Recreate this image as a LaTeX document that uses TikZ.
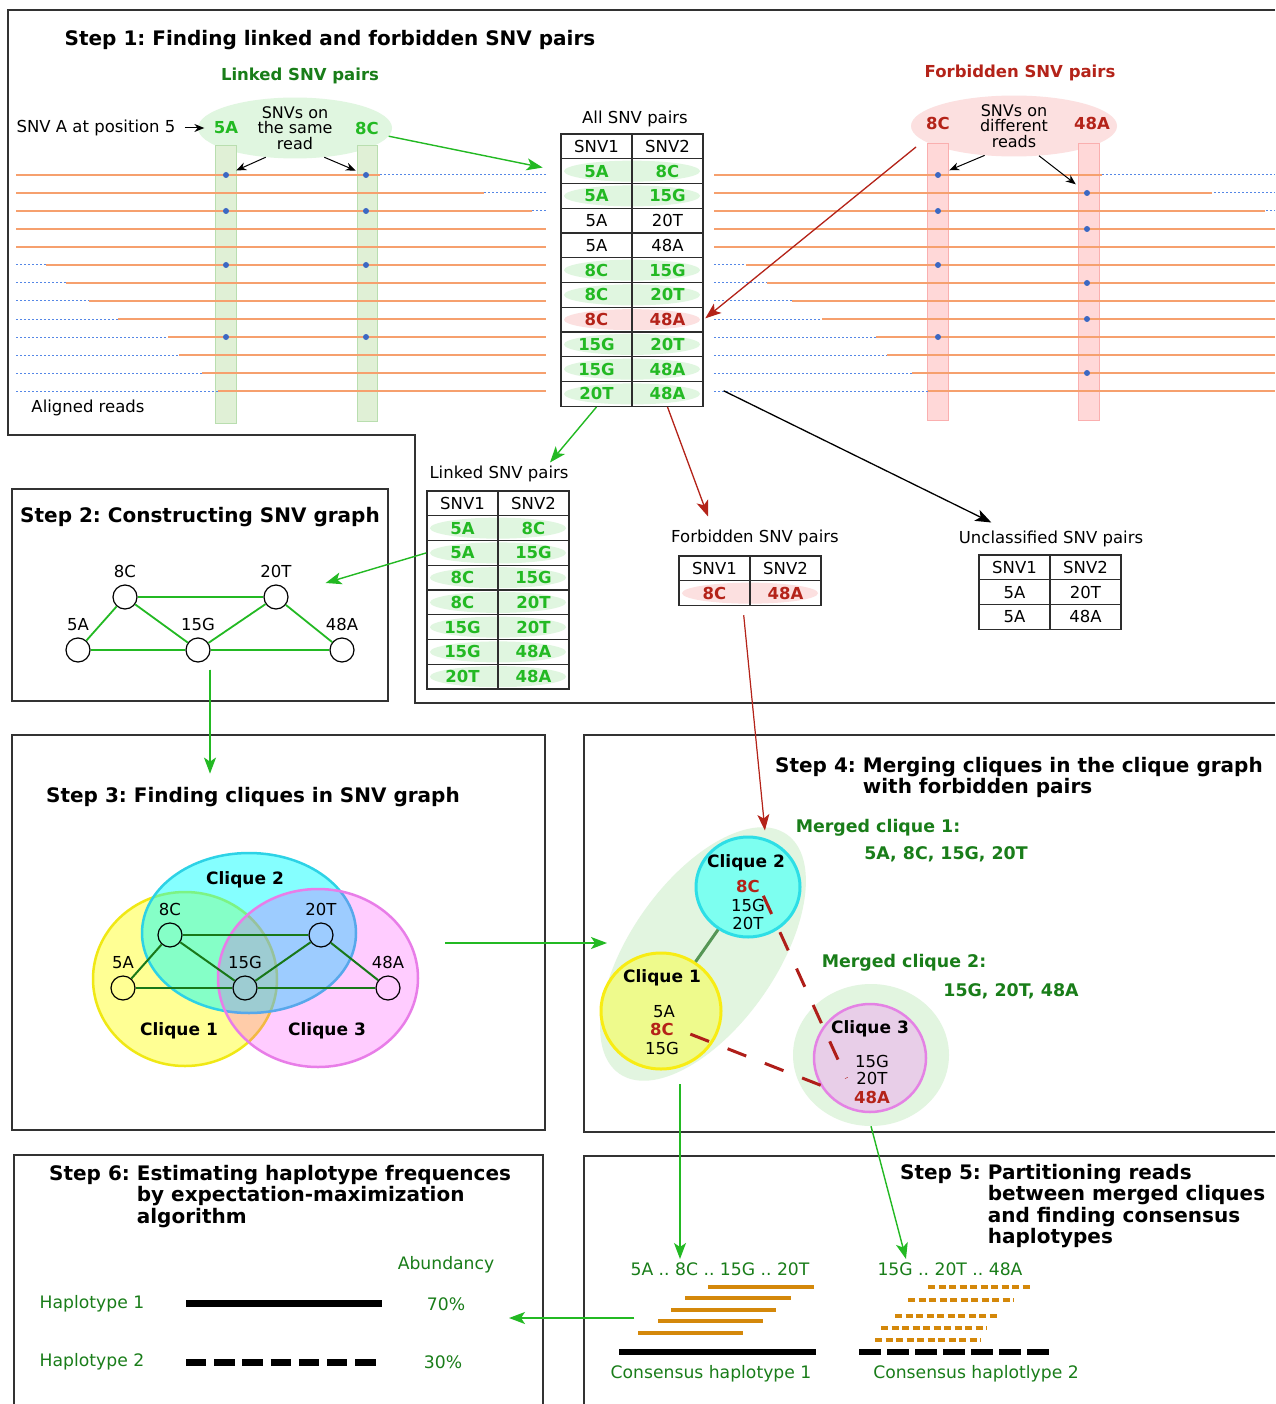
\documentclass[tikz,border=0pt]{standalone}
\usepackage{fontspec}
\setmainfont{DejaVu Sans}
\frenchspacing
\usetikzlibrary{arrows.meta,shapes.geometric,positioning}
\definecolor{snvgreen}{RGB}{35,185,35}
\definecolor{labelgreen}{RGB}{25,125,25}
\definecolor{snvred}{RGB}{180,35,25}
\definecolor{shadegreen}{RGB}{224,246,224}
\definecolor{shadered}{RGB}{252,224,224}
\definecolor{readorange}{RGB}{246,160,110}
\definecolor{readblue}{RGB}{85,135,230}
\definecolor{dotblue}{RGB}{60,105,195}
\definecolor{barfillg}{RGB}{224,240,214}
\definecolor{barlineg}{RGB}{185,222,175}
\definecolor{barfillr}{RGB}{255,216,216}
\definecolor{barliner}{RGB}{250,175,175}
\definecolor{framegray}{RGB}{50,50,50}
\definecolor{tablegray}{RGB}{45,45,45}
\definecolor{edgegreen}{RGB}{25,120,25}
\definecolor{vennyellowfill}{RGB}{255,255,0}
\definecolor{venncyanfill}{RGB}{0,255,255}
\definecolor{vennmagentafill}{RGB}{255,0,255}
\definecolor{vennyellow}{RGB}{240,232,20}
\definecolor{venncyan}{RGB}{45,210,230}
\definecolor{vennmagenta}{RGB}{232,125,232}
\definecolor{mergefill}{RGB}{226,245,224}
\definecolor{cqtwofill}{RGB}{125,255,240}
\definecolor{cqtwoline}{RGB}{45,222,230}
\definecolor{cqonefill}{RGB}{238,250,140}
\definecolor{cqoneline}{RGB}{248,236,20}
\definecolor{cqthreefill}{RGB}{232,206,232}
\definecolor{cqthreeline}{RGB}{228,130,228}
\definecolor{cqlinkgreen}{RGB}{85,150,85}
\definecolor{forbidred}{RGB}{175,30,25}
\definecolor{haporange}{RGB}{212,136,10}
\newcommand{\snvplain}{\fontsize{16.5}{18}\selectfont}
\newcommand{\snvbold}{\fontsize{16.5}{18}\selectfont\bfseries}
\newcommand{\snvtitle}{\fontsize{20}{21.5}\selectfont\bfseries}
\newcommand{\snvoval}{\fontsize{16}{15.5}\selectfont}
\newcommand{\snvhap}{\fontsize{17.2}{19}\selectfont}
\newcommand{\snvclique}{\fontsize{17}{19}\selectfont\bfseries}
\newcommand{\snvmerge}{\fontsize{17.4}{19}\selectfont\bfseries}
\tikzset{
  frame/.style={draw=framegray, line width=1.5pt},
  plain/.style={font=\snvplain},
  steptitle/.style={font=\snvtitle},
  cell/.style={draw=tablegray, line width=1.4pt, minimum width=71pt, minimum height=24.75pt, inner sep=0pt, font=\snvplain},
  lnk/.style={text=snvgreen, font=\snvbold},
  frb/.style={text=snvred, font=\snvbold},
  unc/.style={},
  lnk-bg/.style={fill=shadegreen},
  frb-bg/.style={fill=shadered},
  unc-bg/.style={},
  read/.style={draw=readorange, line width=1.3pt},
  readgap/.style={draw=readblue, line width=1pt, dash pattern=on 2pt off 2pt},
  snvdot/.style={circle, fill=dotblue, inner sep=0pt, minimum size=6pt},
  linkbar/.style={fill=barfillg, draw=barlineg, line width=1pt},
  frbbar/.style={fill=barfillr, draw=barliner, line width=1pt},
  linkoval/.style={ellipse, fill=shadegreen, minimum width=194pt, minimum height=58pt, inner sep=0pt, align=center, font=\snvoval},
  frboval/.style={ellipse, fill=shadered, minimum width=206pt, minimum height=54pt, inner sep=0pt, align=center, font=\snvoval},
  linkhead/.style={font=\snvbold, text=labelgreen},
  frbhead/.style={font=\snvbold, text=snvred},
  ptr/.style={-{Stealth[length=10pt,width=8pt]}, line width=1pt},
  bigptr/.style={-{Stealth[length=16pt,width=12pt,inset=4pt]}, line width=1.3pt},
  greenarrow/.style={-{Stealth[length=16pt,width=12pt,inset=4pt]}, draw=snvgreen, fill=snvgreen, line width=1.4pt},
  redarrow/.style={-{Stealth[length=16pt,width=12pt,inset=4pt]}, draw=snvred, fill=snvred, line width=1.3pt},
  gnode/.style={circle, draw, line width=1.2pt, fill=white, minimum size=24pt, inner sep=0pt},
  gthree/.style={gnode, fill=none},
  edgetwo/.style={draw=snvgreen, line width=1.8pt},
  edgethree/.style={draw=edgegreen, line width=2pt},
  vennone/.style={ellipse, minimum width=184pt, minimum height=174pt, fill=vennyellowfill, fill opacity=0.42, draw=vennyellow, line width=2.5pt},
  venntwo/.style={ellipse, minimum width=214pt, minimum height=160pt, fill=venncyanfill, fill opacity=0.48, draw=venncyan, line width=2.5pt},
  vennthree/.style={ellipse, minimum width=200pt, minimum height=178pt, fill=vennmagentafill, fill opacity=0.2, draw=vennmagenta, line width=2.5pt},
  cliquetitle/.style={font=\snvclique},
  mergeoval/.style={ellipse, fill=mergefill, inner sep=0pt},
  cqone/.style={ellipse, fill=cqonefill, draw=cqoneline, line width=3pt, minimum width=120pt, minimum height=116pt},
  cqtwo/.style={ellipse, fill=cqtwofill, draw=cqtwoline, line width=3pt, minimum width=104pt, minimum height=100pt},
  cqthree/.style={ellipse, fill=cqthreefill, draw=cqthreeline, line width=2.5pt, minimum width=112pt, minimum height=108pt},
  cqlink/.style={draw=cqlinkgreen, line width=3pt},
  forbid/.style={draw=forbidred, line width=3pt, dash pattern=on 20pt off 20pt},
  mergelab/.style={font=\snvmerge, text=labelgreen},
  hapgreen/.style={font=\snvhap, text=labelgreen},
  hapread/.style={draw=haporange, line width=4.5pt},
  consensus/.style={draw=black, line width=6pt},
}
% table of SNV pairs: name, left, top, rows
\newcommand{\pairtable}[4]{%
  \begin{scope}[shift={(#2,#3)}]
    \node[cell] (#1-0-1) at (35.5,12.4) {SNV1};
    \node[cell] (#1-0-2) at (106.5,12.4) {SNV2};
    \foreach \a/\b/\k [count=\r] in {#4} {
      \path[\k-bg] (71,{12.4+24.75*\r}) ellipse (68 and 10.5);
      \node[cell, \k] (#1-\r-1) at (35.5,{12.4+24.75*\r}) {\a};
      \node[cell, \k] (#1-\r-2) at (106.5,{12.4+24.75*\r}) {\b};
    }
  \end{scope}}

\begin{document}
\begin{tikzpicture}[x=1pt, y=-1pt, every label/.append style={font=\snvplain, inner sep=1pt, yshift=5pt}]
  \useasboundingbox (0,0) rectangle (1275,1404);
  \fill[white] (0,0) rectangle (1275,1404);
  % frames
  \draw[frame] (1275,10) -- (8,10) -- (8,435) -- (415,435) -- (415,703) -- (1275,703);
  \draw[frame] (12,489) rectangle (388,701);
  \draw[frame] (12,735) rectangle (545,1130);
  \draw[frame] (1275,735) -- (584,735) -- (584,1132) -- (1275,1132);
  \draw[frame] (1275,1156) -- (584,1156) -- (584,1404);
  \draw[frame] (14,1404) -- (14,1155) -- (543,1155) -- (543,1404);

  % step 1
  \node[steptitle] (s1title) at (330,40) {Step 1: Finding linked and forbidden SNV pairs};
  \node[linkhead] (linkhead) at (300,76) {Linked SNV pairs};
  \node[frbhead] (frbhead) at (1020,73) {Forbidden SNV pairs};
  \node[linkoval] (linkell) at (295,128) {SNVs on\\the same\\read};
  \node[frboval] (forbell) at (1014,126) {SNVs on\\different\\reads};
  \draw[linkbar] (215,146) rectangle (236,423);
  \draw[linkbar] (357,146) rectangle (377,421);
  \draw[frbbar] (927,144) rectangle (948,420);
  \draw[frbbar] (1078,144) rectangle (1099,420);
  % aligned reads
  \foreach \s/\e [count=\r from 0] in {16/380,16/484,16/532,16/546,16/546,46/546,66/546,89/546,118/546,168/546,179/546,202/546,218/546} {
    \draw[readgap] (16,{175+18*\r}) -- (546,{175+18*\r});
    \draw[read] (\s,{175+18*\r}) -- (\e,{175+18*\r});
  }
  \foreach \s/\e [count=\r from 0] in {714/1102,714/1212,714/1265,714/1275,714/1275,746/1275,767/1275,792/1275,822/1275,876/1275,887/1275,912/1275,928/1275} {
    \draw[readgap] (714,{175+18*\r}) -- (1275,{175+18*\r});
    \draw[read] (\s,{175+18*\r}) -- (\e,{175+18*\r});
  }
  \foreach \r in {0,2,5,9} {
    \node[snvdot] (d5A-\r) at (226,{175+18*\r}) {};
    \node[snvdot] (d8C-\r) at (366,{175+18*\r}) {};
    \node[snvdot] (f8C-\r) at (938,{175+18*\r}) {};
  }
  \foreach \r in {1,3,6,8,11}
    \node[snvdot] (f48A-\r) at (1087,{175+18*\r}) {};
  \node[lnk] (lab5A) at (226,128) {5A};
  \node[lnk] (lab8C) at (367,128) {8C};
  \node[frb] (labf8C) at (938,123) {8C};
  \node[frb] (labf48A) at (1092,123) {48A};
  \node[plain] (snva) at (96,128) {SNV A at position 5};
  \node[plain] (aligned) at (88,408) {Aligned reads};
  \draw[ptr, shorten <=6pt, shorten >=6pt] (snva) -- (lab5A);
  \draw[ptr, shorten >=8pt] (linkell.225) -- (d5A-0);
  \draw[ptr, shorten >=8pt] (linkell.315) -- (d8C-0);
  \draw[ptr, shorten >=9pt] (forbell.225) -- (f8C-0);
  \draw[ptr, shorten >=11pt] (forbell.310) -- (f48A-1);

  % all pairs
  \node[plain] (alltitle) at (635,119) {All SNV pairs};
  \pairtable{all}{561}{134}{5A/8C/lnk,5A/15G/lnk,5A/20T/unc,5A/48A/unc,8C/15G/lnk,8C/20T/lnk,8C/48A/frb,15G/20T/lnk,15G/48A/lnk,20T/48A/lnk}
  \draw[greenarrow, shorten >=18pt] (linkell.355) -- (all-1-1.west);
  \coordinate (frbfrom) at (916,147);
  \draw[redarrow, shorten >=2pt] (frbfrom) -- (all-7-2.east);

  % split tables
  \node[plain] (linktitle) at (499,474) {Linked SNV pairs};
  \pairtable{link}{427}{491}{5A/8C/lnk,5A/15G/lnk,8C/15G/lnk,8C/20T/lnk,15G/20T/lnk,15G/48A/lnk,20T/48A/lnk}
  \node[plain] (frbtitle) at (755,538) {Forbidden SNV pairs};
  \pairtable{frb}{679}{556}{8C/48A/frb}
  \node[plain] (unctitle) at (1051,539) {Unclassified SNV pairs};
  \pairtable{unc}{979}{555}{5A/20T/unc,5A/48A/unc}
  \draw[greenarrow] (all-10-1.south) -- ([xshift=-22pt]linktitle.north east);
  \draw[redarrow] (all-10-2.south) -- ([xshift=-47pt,yshift=10pt]frbtitle.north);
  \draw[bigptr] ([xshift=20pt,yshift=-10pt]all-10-2.north east) -- ([xshift=36pt,yshift=5pt]unctitle.north west);

  % step 2
  \node[steptitle] (s2title) at (200,517) {Step 2: Constructing SNV graph};
  \node[gnode, label=above:8C] (g2-8C) at (125,597) {};
  \node[gnode, label=above:20T] (g2-20T) at (276,597) {};
  \node[gnode, label=above:5A] (g2-5A) at (78,650) {};
  \node[gnode, label=above:15G] (g2-15G) at (198,650) {};
  \node[gnode, label=above:48A] (g2-48A) at (342,650) {};
  \foreach \a/\b in {8C/20T,8C/5A,8C/15G,5A/15G,15G/20T,20T/48A,15G/48A}
    \draw[edgetwo] (g2-\a) -- (g2-\b);
  \draw[greenarrow] (link-2-1.west) -- ([xshift=37pt,yshift=14pt]g2-20T.east);
  \draw[greenarrow] ([xshift=12pt,yshift=-7pt]g2-15G.south) -- ++(0,104);

  % step 3
  \node[steptitle] (s3title) at (253,797) {Step 3: Finding cliques in SNV graph};
  \node[vennone] (vn1) at (185,979) {};
  \node[venntwo] (vn2) at (249,933) {};
  \node[vennthree] (vn3) at (318,978) {};
  \node[cliquetitle] (vn2lab) at (245,880) {Clique 2};
  \node[cliquetitle] (vn1lab) at (179,1031) {Clique 1};
  \node[cliquetitle] (vn3lab) at (327,1031) {Clique 3};
  \node[gthree, label=above:8C] (g3-8C) at (170,935) {};
  \node[gthree, label=above:20T] (g3-20T) at (321,935) {};
  \node[gthree, label=above:5A] (g3-5A) at (123,988) {};
  \node[gthree, label=above:15G] (g3-15G) at (245,988) {};
  \node[gthree, label=above:48A] (g3-48A) at (388,988) {};
  \foreach \a/\b in {8C/20T,8C/5A,8C/15G,5A/15G,15G/20T,20T/48A,15G/48A}
    \draw[edgethree] (g3-\a) -- (g3-\b);
  \coordinate (s3out) at (445,943);
  \draw[greenarrow] (s3out) -- ++(162,0);

  % step 4
  \node[steptitle, anchor=north west, align=left, inner sep=0pt] (s4title) at (775,757)
    {Step 4: Merging cliques in the clique graph\\\phantom{Step 4: }with forbidden pairs};
  \node[mergeoval, rotate=55, minimum width=292pt, minimum height=146pt] (mg1) at (703,954) {};
  \node[mergeoval, minimum width=156pt, minimum height=142pt] (mg2) at (871,1055) {};
  \node[cqtwo] (cq2) at (748,887) {};
  \node[cqone] (cq1) at (661,1011) {};
  \node[cqthree] (cq3) at (870,1058) {};
  \draw[cqlink] (cq2) -- (cq1);
  \node[cliquetitle] (cq2-t) at (746,863) {Clique 2};
  \node[frb] (cq2-8C) at (748,886) {8C};
  \node[plain] (cq2-15G) at (748,905) {15G};
  \node[plain] (cq2-20T) at (748,923) {20T};
  \node[cliquetitle] (cq1-t) at (662,978) {Clique 1};
  \node[plain] (cq1-5A) at (664,1012) {5A};
  \node[frb] (cq1-8C) at (662,1029) {8C};
  \node[plain] (cq1-15G) at (662,1048) {15G};
  \node[cliquetitle] (cq3-t) at (870,1029) {Clique 3};
  \node[plain] (cq3-15G) at (872,1061) {15G};
  \node[plain] (cq3-20T) at (872,1078) {20T};
  \node[frb] (cq3-48A) at (872,1097) {48A};
  \draw[forbid, shorten >=10pt] (cq2-8C.south east) -- (cq3-48A.north west);
  \draw[forbid, shorten <=14pt, shorten >=15pt] (cq1-8C.east) -- (cq3-48A.west);
  \node[mergelab] (mg1lab) at (878,828) {Merged clique 1:};
  \node[mergelab] (mg1set) at (946,854) {5A, 8C, 15G, 20T};
  \node[mergelab] (mg2lab) at (904,963) {Merged clique 2:};
  \node[mergelab] (mg2set) at (1011,991) {15G, 20T, 48A};
  \draw[redarrow, line width=1.2pt, shorten >=8pt] ([xshift=-7pt,yshift=-9pt]frb-1-1.south east) -- (cq2.70);

  % step 5
  \node[steptitle, anchor=north west, align=left, inner sep=0pt] (s5title) at (900,1164)
    {Step 5: Partitioning reads\\\phantom{Step 5: }between merged cliques\\\phantom{Step 5: }and finding consensus\\\phantom{Step 5: }haplotypes};
  \node[hapgreen] (hap1lbl) at (720,1269) {5A .. 8C .. 15G .. 20T};
  \node[hapgreen] (hap2lbl) at (950,1269) {15G .. 20T .. 48A};
  \foreach \s/\e/\y in {708/814/1287,685/791/1298,671/776/1310,658/763/1321,638/743/1333}
    \draw[hapread] (\s,\y) -- (\e,\y);
  \foreach \s/\e/\y in {928/1033/1287,908/1014/1300,895/1000/1316,881/987/1328,875/981/1340}
    \draw[hapread, dash pattern=on 7pt off 3.5pt] (\s,\y) -- (\e,\y);
  \draw[consensus] (619,1352) -- (816,1352);
  \draw[consensus, dash pattern=on 22pt off 6pt] (859,1352) -- (1049,1352);
  \node[hapgreen] (cons1) at (711,1374) {Consensus haplotype 1};
  \node[hapgreen] (cons2) at (976,1374) {Consensus haplotlype 2};
  \coordinate (s4out) at (680,1084);
  \draw[greenarrow] (s4out) -- (s4out |- hap1lbl.north);
  \draw[greenarrow] (mg2.south) -- ([xshift=32pt]hap2lbl.north west);

  % step 6
  \node[steptitle, anchor=north west, align=left, inner sep=0pt] (s6title) at (49,1165)
    {Step 6: Estimating haplotype frequences\\\phantom{Step 6: }by expectation-maximization\\\phantom{Step 6: }algorithm};
  \node[hapgreen] (abund) at (446,1265) {Abundancy};
  \node[hapgreen] (hapl1) at (92,1304) {Haplotype 1};
  \node[hapgreen] (pct1) at (446,1304) {70\%};
  \node[hapgreen] (hapl2) at (92,1362) {Haplotype 2};
  \node[hapgreen] (pct2) at (443,1362) {30\%};
  \draw[consensus, line width=7pt] (186,1303) -- (382,1303);
  \draw[consensus, line width=7pt, dash pattern=on 20.4pt off 7.8pt] (186,1362) -- (377,1362);
  \coordinate (s5out) at (634,1318);
  \draw[greenarrow] (s5out) -- ++(-125,0);
\end{tikzpicture}
\end{document}
